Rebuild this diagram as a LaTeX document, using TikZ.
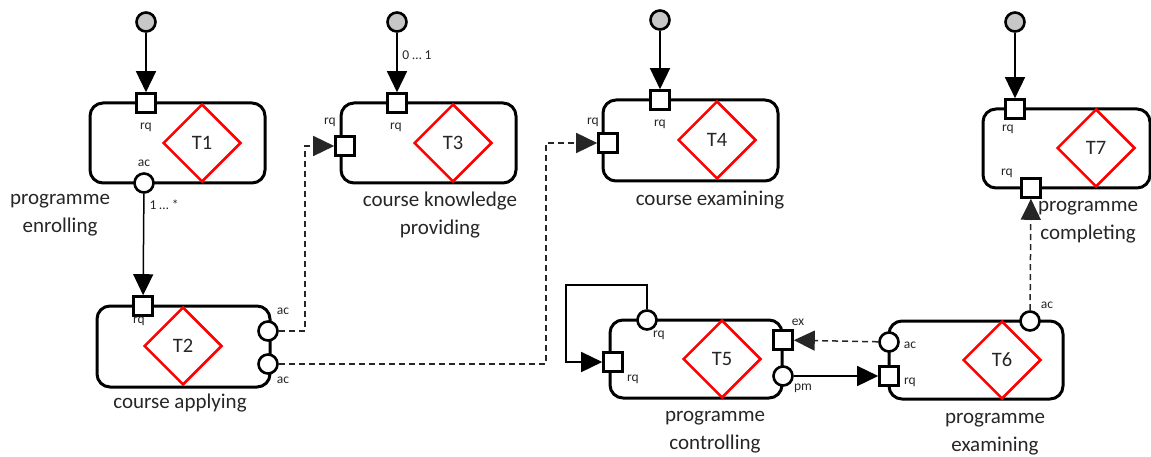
\documentclass[tikz,border=0pt]{standalone}
\usepackage{fontspec}
\setmainfont{Carlito}
\usetikzlibrary{shapes.geometric,arrows.meta}
\begin{document}
\begin{tikzpicture}[x=1pt,y=-1pt,
  tbox/.style={draw, line width=3pt, rounded corners=13pt, fill=white, inner sep=0pt},
  tdia/.style={diamond, draw=red, line width=2.5pt, minimum width=78pt, minimum height=78pt, inner sep=0pt, font=\fontsize{20.5}{24}\selectfont, text=black!85},
  sq/.style={draw, line width=2.6pt, fill=white, minimum size=19pt, inner sep=0pt},
  cir/.style={circle, draw, line width=2.6pt, fill=white, minimum size=19pt, inner sep=0pt},
  init/.style={circle, draw, line width=2.6pt, fill=black!22, minimum size=19pt, inner sep=0pt},
  lab/.style={font=\fontsize{13.5}{15}\selectfont, inner sep=0pt, text=black!85},
  ttl/.style={font=\fontsize{21}{28}\selectfont, align=center, inner sep=0pt, text=black!85},
  conn/.style={line width=1.5pt, -{Triangle[length=21pt,width=20pt]}},
  dconn/.style={conn, black!85, dash pattern=on 6pt off 4pt},
]
\useasboundingbox (0,0) rectangle (1151,457);

% transaction boxes
\node[tbox, minimum width=175pt, minimum height=80pt] (b1) at (177.5,143) {};
\node[tbox, minimum width=173pt, minimum height=81pt] (b2) at (183.5,346.5) {};
\node[tbox, minimum width=175pt, minimum height=80pt] (b3) at (428.5,143) {};
\node[tbox, minimum width=175pt, minimum height=81pt] (b4) at (690.5,140.5) {};
\node[tbox, minimum width=172pt, minimum height=78pt] (b5) at (696,359) {};
\node[tbox, minimum width=174pt, minimum height=78pt] (b6) at (976,360) {};
\node[tbox, minimum width=167pt, minimum height=79pt] (b7) at (1066.5,148.5) {};

% transaction kinds
\node[tdia] (d1) at (202,143) {T1};
\node[tdia] (d2) at (183,346) {T2};
\node[tdia] (d3) at (453,143) {T3};
\node[tdia] (d4) at (717,140) {T4};
\node[tdia] (d5) at (722,359) {T5};
\node[tdia] (d6) at (1002,360) {T6};
\node[tdia] (d7) at (1096,148) {T7};

% titles
\node[ttl] (n1) at (60,215) {programme\\enrolling};
\node[ttl] (n2) at (180,403) {course applying};
\node[ttl] (n3) at (440,215) {course knowledge\\providing};
\node[ttl] (n4) at (710,200) {course examining};
\node[ttl] (n5) at (715,432) {programme\\controlling};
\node[ttl] (n6) at (995,434) {programme\\examining};
\node[ttl] (n7) at (1088,222) {programme\\completing};

% initiators
\node[init] (i1) at (146,22) {};
\node[init] (i3) at (397,22) {};
\node[init] (i4) at (660,20) {};
\node[init] (i7) at (1015,22) {};

% bends of the connectors
\coordinate (k1) at (305,331);
\coordinate (k2) at (305,146);
\coordinate (k3) at (546,364);
\coordinate (k4) at (546,143);
\coordinate (k5) at (647,285);
\coordinate (k6) at (566,285);
\coordinate (k7) at (566,362);

% ports
\node[sq] (p1r) at (146,103) {};
\node[cir] (p1a) at (144,183) {};
\node[sq] (p2r) at (143,306) {};
\node[cir] (p2a) at (268,331) {};
\node[cir] (p2b) at (268,364) {};
\node[sq] (p3r) at (397,103) {};
\node[sq] (p3l) at (345,146) {};
\node[sq] (p4r) at (660,100) {};
\node[sq] (p4l) at (608,143) {};
\node[cir] (p5t) at (647,320) {};
\node[sq] (p5l) at (613,362) {};
\node[sq] (p5e) at (783,340) {};
\node[cir] (p5p) at (783,376) {};
\node[cir] (p6a) at (889,342) {};
\node[sq] (p6r) at (889,376) {};
\node[cir] (p6t) at (1030,321) {};
\node[sq] (p7r) at (1015,109) {};
\node[sq] (p7b) at (1031,188) {};

% connectors
\draw[conn] (i1) -- (p1r);
\draw[conn] (i3) -- (p3r);
\draw[conn] (i4) -- (p4r);
\draw[conn] (i7) -- (p7r);
\draw[conn] (p1a) -- (p2r);
\draw[dconn] (p2a) -- (k1) -- (k2) -- (p3l);
\draw[dconn] (p2b) -- (k3) -- (k4) -- (p4l);
\draw[conn] (p5t) -- (k5) -- (k6) -- (k7) -- (p5l);
\draw[conn] (p5p) -- (p6r);
\draw[dconn] (p6a) -- (p5e);
\draw[dconn] (p6t) -- (p7b);

% port labels
\node[lab] (l1r) at (146,127) {rq};
\node[lab] (l1a) at (144,163) {ac};
\node[lab] (l1m) at (164,205) {1 … *};
\node[lab] (l2r) at (139,321) {rq};
\node[lab] (l2a) at (283,311) {ac};
\node[lab] (l2b) at (283,380) {ac};
\node[lab] (l3r) at (396,127) {rq};
\node[lab] (l3l) at (330,122) {rq};
\node[lab] (l3m) at (417,55) {0 … 1};
\node[lab] (l4r) at (660,124) {rq};
\node[lab] (l4l) at (593,122) {rq};
\node[lab] (l5t) at (659,335) {rq};
\node[lab] (l5l) at (633,379) {rq};
\node[lab] (l5e) at (798,322) {ex};
\node[lab] (l5p) at (803,388) {pm};
\node[lab] (l6a) at (910,345) {ac};
\node[lab] (l6r) at (910,382) {rq};
\node[lab] (l6t) at (1047,305) {ac};
\node[lab] (l7r) at (1008,129) {rq};
\node[lab] (l7b) at (1007,173) {rq};
\end{tikzpicture}
\end{document}
